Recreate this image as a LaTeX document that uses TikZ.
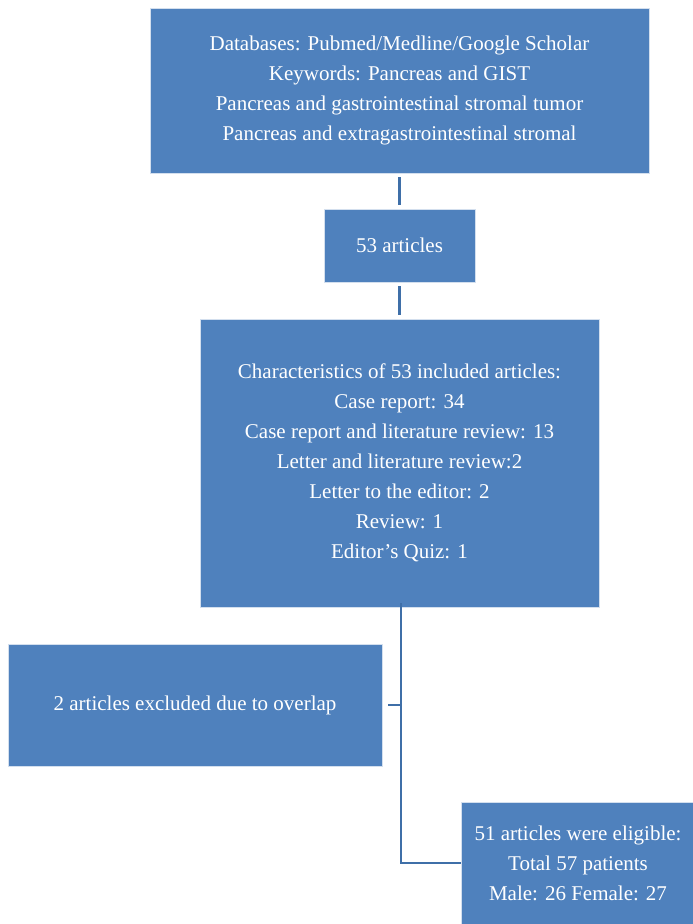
\documentclass[tikz,border=0pt]{standalone}
\usepackage{fontspec}
\setmainfont{Liberation Serif}
\definecolor{boxblue}{HTML}{4F81BD}
\definecolor{lineblue}{HTML}{3F6FA8}
\begin{document}
\begin{tikzpicture}[x=1pt,y=-1pt,
  box/.style={fill=boxblue, draw=white!75!boxblue, line width=0.8pt, text=white, align=center,
    inner sep=0pt, font=\fontsize{21}{30}\selectfont},
  conn/.style={draw=lineblue, line width=2.6pt}]
\useasboundingbox (0,0) rectangle (693,924);
\node[box, minimum width=499, minimum height=165] (b1) at (399.5,90.5)
  {Databases: Pubmed/Medline/Google Scholar\\Keywords: Pancreas and GIST\\Pancreas and gastrointestinal stromal tumor\\Pancreas and extragastrointestinal stromal};
\node[box, minimum width=151, minimum height=73] (b2) at (399.5,245.5) {53 articles};
\node[box, minimum width=399, minimum height=288] (b3) at (399.5,463)
  {Characteristics of 53 included articles:\\Case report: 34\\Case report and literature review: 13\\Letter and literature review:2\\Letter to the editor: 2\\Review: 1\\Editor’s Quiz: 1};
\node[box, minimum width=374, minimum height=122] (b4) at (195,705) {2 articles excluded due to overlap};
\node[box, minimum width=234, minimum height=122] (b5) at (578,863)
  {51 articles were eligible:\\Total 57 patients\\Male: 26 Female: 27};
\coordinate (t0) at ([xshift=1.5,yshift=4]b3.south);
\coordinate (tb) at (t0 |- b5.west);
\coordinate (t4) at (t0 |- b4.east);
\draw[conn, shorten <=4pt, shorten >=4pt] (b1.south) -- (b2.north);
\draw[conn, shorten <=4pt, shorten >=4pt] (b2.south) -- (b3.north);
\draw[conn] (t0) -- (tb) -- (b5.west);
\draw[conn, shorten <=6pt] (b4.east) -- (t4);
\end{tikzpicture}
\end{document}
